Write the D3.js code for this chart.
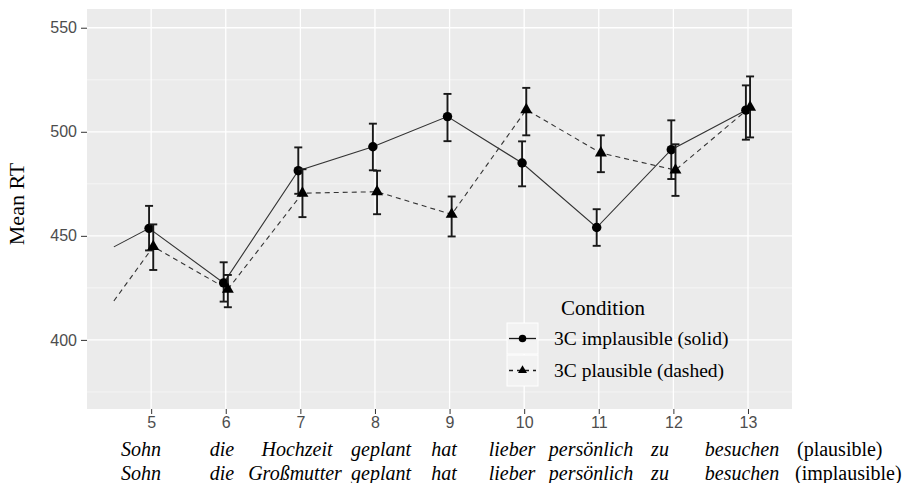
<!DOCTYPE html>
<html><head><meta charset="utf-8">
<script src="https://cdn.jsdelivr.net/npm/d3@7"></script>
<style>body{margin:0;background:#fff}svg{display:block}</style>
</head><body>
<svg id="c" width="903" height="483"></svg>
<script>
// ---- data ----
const positions = [5, 6, 7, 8, 9, 10, 11, 12, 13];
const lineStart = 4.5;
const implStart = 444.7;
const plauStart = 418.7;
const implMean  = [453.6, 427.4, 481.3, 492.8, 507.3, 485.0, 454.0, 491.4, 510.4];
const implHigh  = [464.4, 437.3, 492.5, 503.9, 518.2, 495.4, 462.8, 505.5, 522.3];
const implLow   = [443.0, 418.4, 470.2, 481.5, 495.5, 473.8, 445.2, 477.3, 496.2];
const plauMean  = [444.8, 424.3, 470.5, 471.2, 460.3, 510.6, 489.8, 481.6, 511.8];
const plauHigh  = [455.5, 431.2, 482.0, 481.3, 468.9, 521.1, 498.3, 494.0, 526.6];
const plauLow   = [433.6, 415.7, 459.0, 460.4, 449.7, 498.3, 480.6, 469.2, 497.3];
const yTicks = [400, 450, 500, 550];
const yMinor = [375, 425, 475, 525];
const wordsPlausible   = ["Sohn", "die", "Hochzeit", "geplant", "hat", "lieber", "persönlich", "zu", "besuchen"];
const wordsImplausible = ["Sohn", "die", "Großmutter", "geplant", "hat", "lieber", "persönlich", "zu", "besuchen"];
const rowLabels = ["(plausible)", "(implausible)"];
const legendTitle = "Condition";
const legendLabels = ["3C implausible (solid)", "3C plausible (dashed)"];

// ---- layout ----
const svg = d3.select("#c");
const L = 87, R = 792, T = 9, B = 409;
const x = d3.scaleLinear().domain([4.14, 13.59]).range([L, R]);
const y = d3.scaleLinear().domain([366.8, 559]).range([B, T]);
const serif = "'Liberation Serif','Times New Roman',serif";
const sans = "'Liberation Sans',Arial,sans-serif";

svg.append("rect").attr("x", L).attr("y", T).attr("width", R - L).attr("height", B - T).attr("fill", "#ebebeb");
const g = svg.append("g");
g.selectAll(".ymin").data(yMinor).join("line")
  .attr("x1", L).attr("x2", R).attr("y1", d => y(d)).attr("y2", d => y(d))
  .attr("stroke", "#f7f7f7").attr("stroke-width", 0.8);
g.selectAll(".ymaj").data(yTicks).join("line")
  .attr("x1", L).attr("x2", R).attr("y1", d => y(d)).attr("y2", d => y(d))
  .attr("stroke", "#fff").attr("stroke-width", 1.3);
g.selectAll(".xmaj").data(positions).join("line")
  .attr("y1", T).attr("y2", B).attr("x1", d => x(d)).attr("x2", d => x(d))
  .attr("stroke", "#fff").attr("stroke-width", 1.3);

// axes
const yAxis = svg.append("g").attr("transform", `translate(${L},0)`)
  .call(d3.axisLeft(y).tickValues(yTicks).tickSize(6).tickPadding(4));
const xAxis = svg.append("g").attr("transform", `translate(0,${B})`)
  .call(d3.axisBottom(x).tickValues(positions).tickSize(5).tickPadding(3));
[yAxis, xAxis].forEach(a => {
  a.select(".domain").remove();
  a.selectAll(".tick line").attr("stroke", "#333").attr("stroke-width", 1);
  a.selectAll(".tick text").attr("fill", "#4d4d4d").style("font-family", sans).style("font-size", "16px");
});

svg.append("text").attr("transform", "translate(24,204) rotate(-90)")
  .attr("text-anchor", "middle").style("font-family", serif).style("font-size", "22px").attr("fill", "#000")
  .text("Mean RT");

// series
const dodge = 0.028;
const series = [
  { mean: implMean, hi: implHigh, lo: implLow, start: implStart, dash: null, sym: d3.symbolCircle, size: 70, dx: -dodge },
  { mean: plauMean, hi: plauHigh, lo: plauLow, start: plauStart, dash: "5,4", sym: d3.symbolTriangle, size: 62, dx: dodge }
];
const line = d3.line().x(d => x(d[0])).y(d => y(d[1]));
series.forEach(s => {
  const pts = [[lineStart, s.start]].concat(positions.map((p, i) => [p + s.dx, s.mean[i]]));
  g.append("path").attr("d", line(pts)).attr("fill", "none")
    .attr("stroke", "#333").attr("stroke-width", 1.1).attr("stroke-dasharray", s.dash);
});
series.forEach(s => {
  const eg = g.append("g").attr("stroke", "#1a1a1a").attr("stroke-width", 1.9);
  positions.forEach((p, i) => {
    const cx = x(p + s.dx);
    eg.append("line").attr("x1", cx).attr("x2", cx).attr("y1", y(s.hi[i])).attr("y2", y(s.lo[i]));
    eg.append("line").attr("x1", cx - 4).attr("x2", cx + 4).attr("y1", y(s.hi[i])).attr("y2", y(s.hi[i]));
    eg.append("line").attr("x1", cx - 4).attr("x2", cx + 4).attr("y1", y(s.lo[i])).attr("y2", y(s.lo[i]));
  });
  g.selectAll(null).data(positions).join("path")
    .attr("transform", (p, i) => `translate(${x(p + s.dx)},${y(s.mean[i])})`)
    .attr("d", d3.symbol().type(s.sym).size(s.size)).attr("fill", "#000");
});

// legend
const lg = svg.append("g");
lg.append("text").attr("x", 561).attr("y", 315).style("font-family", serif).style("font-size", "21px").text(legendTitle);
[0, 1].forEach(i => {
  const ky = 323 + i * 32;
  lg.append("rect").attr("x", 507).attr("y", ky).attr("width", 31).attr("height", 31)
    .attr("fill", "#f2f2f2").attr("stroke", "#fff").attr("stroke-width", 1);
  const cy = ky + 15.5;
  lg.append("line").attr("x1", 509).attr("x2", 536).attr("y1", cy).attr("y2", cy)
    .attr("stroke", "#1a1a1a").attr("stroke-width", 1.3).attr("stroke-dasharray", series[i].dash ? "4,4" : null);
  lg.append("path").attr("transform", `translate(522.5,${cy})`)
    .attr("d", d3.symbol().type(series[i].sym).size(i === 0 ? 45 : 35)).attr("fill", "#000");
  lg.append("text").attr("x", 554).attr("y", cy + 6.5).style("font-family", serif).style("font-size", "19.5px")
    .text(legendLabels[i]);
});

// word rows
const wordX1 = [141, 222, 297, 381, 444, 512, 591, 660, 742];
const wordX2 = [141, 222, 295, 381, 444, 512, 591, 660, 742];
const wg = svg.append("g").style("font-family", serif).style("font-size", "20px").attr("fill", "#000");
wordsPlausible.forEach((w, i) => wg.append("text").attr("x", wordX1[i]).attr("y", 456).attr("text-anchor", "middle").style("font-style", "italic").text(w));
wordsImplausible.forEach((w, i) => wg.append("text").attr("x", wordX2[i]).attr("y", 480).attr("text-anchor", "middle").style("font-style", "italic").text(w));
wg.append("text").attr("x", 797).attr("y", 456).text(rowLabels[0]);
wg.append("text").attr("x", 795).attr("y", 480).text(rowLabels[1]);
</script>
</body></html>
